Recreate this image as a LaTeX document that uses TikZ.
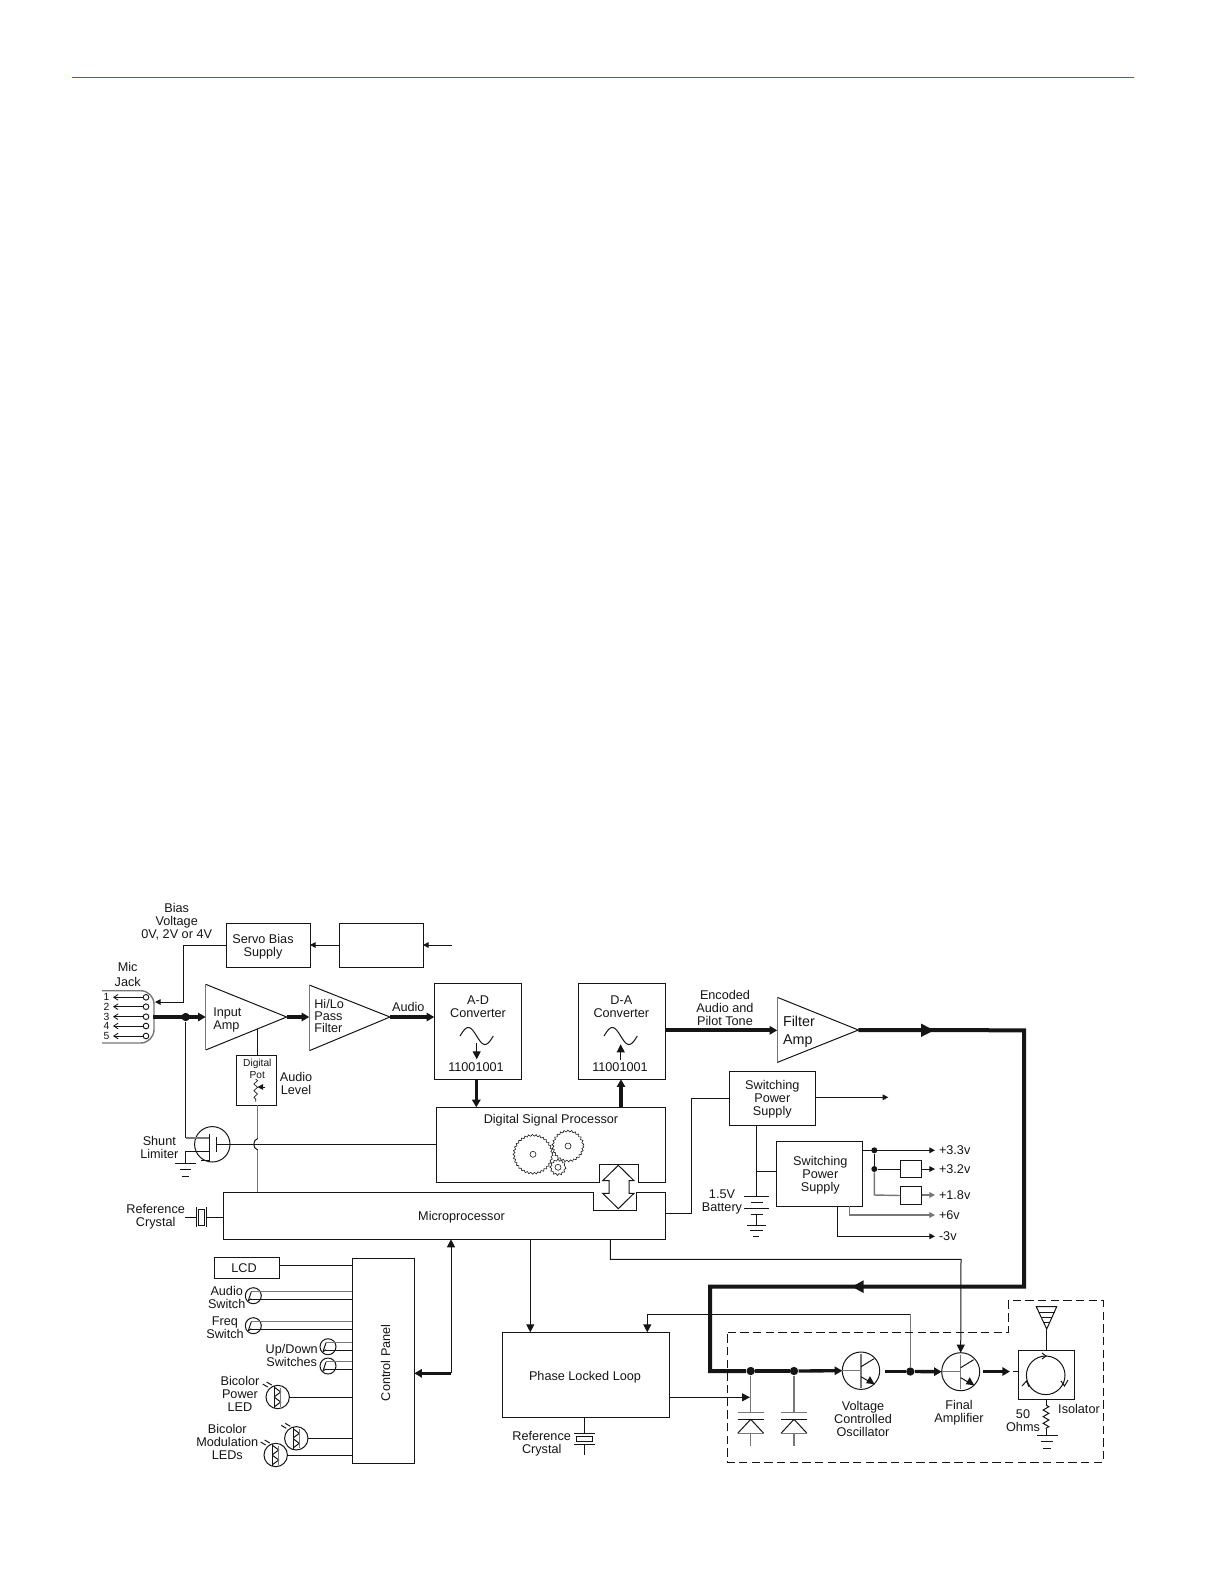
\documentclass[tikz,border=0pt]{standalone}
\usepackage{fontspec}
\setmainfont{Liberation Sans}
\usetikzlibrary{arrows.meta,decorations.pathmorphing,calc}
\definecolor{ink}{HTML}{151515}
\definecolor{gl}{HTML}{777777}
\definecolor{rule}{HTML}{1B75A5}
\tikzset{
  wire/.style={line width=0.6pt,draw=ink},
  gwire/.style={line width=0.85pt,draw=gl},
  thick1/.style={line width=2pt,draw=ink},
  thick2/.style={line width=2.4pt,draw=ink},
  arrS/.style={-{Triangle[length=3.4pt,width=3.4pt]}},
  arrB/.style={-{Straight Barb[length=2.6pt,width=3.4pt,line width=0.5pt]}},
  arrM/.style={-{Triangle[length=4.8pt,width=4.8pt]}},
  arrT/.style={-{Triangle[length=4.6pt,width=5pt]}},
  boxn/.style={draw=ink,line width=0.6pt,inner sep=0pt,outer sep=0pt,align=center,fill=none},
  lab/.style={inner sep=0pt,outer sep=0pt,align=center,text=ink,font=\fontsize{7.6}{7.8}\selectfont},
  labl/.style={lab,align=left,anchor=west},
  dotn/.style={circle,fill=ink,inner sep=0pt,minimum size=5pt},
  ringn/.style={circle,draw=ink,line width=0.6pt,inner sep=0pt,outer sep=0pt},
  pinring/.style={circle,draw=ink,line width=0.55pt,inner sep=0pt,outer sep=0pt,minimum size=3.4pt},
  transistor/.pic={
    \draw[gwire] (0,-17)--(0,17);
    \draw[wire] (0,-4)--(13,-12);
    \draw[wire] (0,6)--(12,13);
    \fill[ink] (13.5,13.5)--(5,12.5)--(9,5.5)--cycle;
  },
  ledsym/.pic={
    \draw[wire] (-11,-15)--(-6,-12) (-15,-13)--(-10,-10);
    \draw[wire] (-3,-11)--(-3,11);
    \draw[wire] (-3,-9.5)--(3,-5)--(-3,-0.5);
    \draw[wire] (-3,0.5)--(3,5)--(-3,9.5);
    \draw[gwire] (3,-9)--(3,10);
  },
  switchsym/.pic={
    \draw[wire] (-5,5)--(-2,-4);
    \draw[wire] (-5,5)--(-2,3);
  }
}
\newcommand\rectnode[6]{%
  \pgfmathsetmacro\rw{(#4-#2)*0.6}\pgfmathsetmacro\rh{(#5-#3)*0.6}%
  \node[boxn,lab,minimum width=\rw pt,minimum height=\rh pt,draw=ink,line width=0.6pt] (#1) at ({(#2+#4)/2},{(#3+#5)/2}) {#6};}
\newcommand\ringat[4]{%
  \pgfmathsetmacro\rd{2*#4*0.6}%
  \node[ringn,minimum size=\rd pt] (#1) at (#2,#3) {};}
\begin{document}
\begin{tikzpicture}[x=0.6pt,y=-0.6pt]
\useasboundingbox (0,0) rectangle (1224,1584);
% top rule
\coordinate (ruleL) at (71.7,77.5); \coordinate (ruleR) at (1134,77.5);
\draw[rule,line width=0.85pt] (ruleL)--(ruleR);

% ---------- boxes
\rectnode{servo}{226.7}{923}{310}{967}{}
\rectnode{blank}{339}{923}{423}{967}{}
\rectnode{adc}{434.3}{983.3}{521.7}{1079.3}{}
\rectnode{dac}{578.3}{983.3}{665.7}{1079.3}{}
\rectnode{pot}{236.7}{1055.3}{276.3}{1105.3}{}
\rectnode{sw1}{729.3}{1071}{815.7}{1125.3}{}
\rectnode{sw2}{776.3}{1141.3}{862.7}{1206.3}{}
\rectnode{reg1}{900.3}{1160}{921.7}{1177.7}{}
\rectnode{reg2}{900.3}{1186.3}{921.7}{1204.7}{}
\rectnode{lcd}{214.7}{1257.3}{279.3}{1278.3}{}
\rectnode{panel}{352.3}{1258.3}{414.3}{1463.3}{}
\rectnode{pll}{502.7}{1332.3}{669.3}{1417.3}{}
\rectnode{iso}{1018.3}{1350.7}{1074.3}{1399.3}{}

% DSP and microprocessor with notches
\draw[wire] (599.3,1182.3)--(599.3,1164.3)--(638.7,1164.3)--(638.7,1182.3)--(665.7,1182.3)--(665.7,1107.3)--(436.3,1107.3)--(436.3,1182.3)--cycle;
\coordinate (dspL) at (436.3,1144.3);
\coordinate (dspA) at (476.3,1107.3); \coordinate (dspB) at (621,1107.3);
\draw[wire] (593.3,1192.3)--(593.3,1210.3)--(636.7,1210.3)--(636.7,1192.3)--(665.7,1192.3)--(665.7,1239.3)--(223.3,1239.3)--(223.3,1192.3)--cycle;
\coordinate (micL) at (223.3,1217); \coordinate (micR) at (665.7,1213.7);
\coordinate (micPot) at (257.7,1192.3);
\coordinate (micA) at (451,1239.3); \coordinate (micB) at (530.3,1239.3); \coordinate (micC) at (610.3,1239.3);
% double arrow
\draw[wire] (618.3,1165.3)--(634,1180.7)--(629,1180.7)--(629,1193.3)--(634,1193.3)--(618.3,1208.7)--(602.7,1193.3)--(609,1193.3)--(609,1180.7)--(602.7,1180.7)--cycle;

% amplifiers
\coordinate (ampA) at (205.7,984.3); \coordinate (ampB) at (205.7,1050); \coordinate (ampT) at (286.7,1017);
\draw[wire] (ampB)--(ampT)--(ampA); \draw[gwire] (ampA)--(ampB);
\coordinate (filA) at (309.3,985); \coordinate (filB) at (309.3,1050.7); \coordinate (filT) at (390,1017);
\draw[wire] (filB)--(filT)--(filA); \draw[gwire] (filA)--(filB);
\coordinate (famA) at (777.3,997.3); \coordinate (famB) at (777.3,1062.4); \coordinate (famT) at (858.4,1030);
\draw[wire] (famB)--(famT)--(famA); \draw[gwire] (famA)--(famB);
\coordinate (ampL) at (205.7,1017); \coordinate (filL) at (309.3,1017); \coordinate (famL) at (777.3,1030.3);
\coordinate (ampPot) at (257.7,1029.3);

% mic jack
\draw[gwire,rounded corners=8pt] (102,990.7)--(154,990.7)--(154,1043)--(102,1043);
\coordinate (jackR) at (155,1002); \coordinate (jackO) at (153,1017);
\foreach \n/\y in {1/997.3,2/1006.7,3/1016.7,4/1026,5/1036}{
  \node[pinring] (pin\n) at (146,\y) {};
  \coordinate (pinT\n) at (113,\y);
  \draw[wire,arrB] (pin\n)--(pinT\n);
  \node[lab,font=\fontsize{6.2}{7}\selectfont] (pinN\n) at (106.5,\y) {\n};
}
% bias lines
\coordinate (feedIn) at (452,945);
\draw[wire,arrS] (feedIn)--(blank.east|-feedIn);
\draw[wire,arrS] (blank.west|-feedIn)--(servo.east|-feedIn);
\draw[wire,arrS] (servo.west|-feedIn)-|(183,1002)--(jackR);
% main audio path
\node[dotn] (jdot) at (185.7,1017) {};
\draw[thick1,arrT] (jackO)--(ampL);
\draw[thick1,arrT] (ampT)--(filL);
\draw[thick1,arrT] (filT)--(adc.west|-filT);
\draw[thick1,arrT] (adc.south-|dspA)--(dspA);
\draw[thick1,arrT] (dspB)--(dac.south-|dspB);
\draw[thick2,arrT] (dac.east|-famL)--(famL);
% pot
\draw[wire] (ampPot)--(pot.north-|ampPot);
\coordinate (hop1) at (257.7,1138.5); \coordinate (hop2) at (257.7,1150);
\draw[gwire] (pot.south-|ampPot)--(hop1);
\draw[wire] (hop1) .. controls (252.5,1140) and (252.5,1148.5) .. (hop2);
\draw[gwire] (hop2)--(micPot);
\draw[line width=0.4pt,draw=ink,decorate,decoration={zigzag,segment length=4pt,amplitude=1.1pt}] (255.7,1079)--(255.7,1101.7);
\draw[line width=0.45pt,draw=ink,arrS] (265,1087)--(257.5,1087);
% shunt limiter
\ringat{fet}{212.3}{1144.3}{17.7}
\draw[wire] (jdot)--(185.7,1138);
\draw[gwire] (185.7,1138)--(209.3,1138);
\draw[wire] (209.3,1134)--(209.3,1161);
\draw[wire] (209.3,1151)--(185,1151)--(185,1163.3);
\draw[wire] (201,1160.7)--(209.3,1160.7);
\draw[wire] (216.7,1137)--(216.7,1151.5);
\draw[wire] (216.7,1144.3)--(dspL);
\draw[wire] (175,1163.3)--(195.7,1163.3) (180,1169.3)--(191,1169.3) (181.7,1176)--(189,1176);
% reference crystal 1
\draw[wire] (185,1217)--(196,1217) (196,1207.3)--(196,1227.3);
\draw[wire] (198.3,1209)rectangle(204.7,1225.7);
\draw[wire] (206.3,1207.3)--(206.3,1227.3) (206.3,1217)--(micL);
% A-D / D-A internals
\draw[wire] plot[domain=0:360,samples=40] ({460+\x/360*33.3},{1036-8.5*sin(\x)});
\draw[wire] plot[domain=0:360,samples=40] ({604+\x/360*33.3},{1036-8.5*sin(\x)});
\draw[wire,arrM] (476.7,1043.3)--(476.7,1059.3);
\draw[wire,arrM] (620.7,1060)--(620.7,1044.3);
% gears
\foreach \n/\cx/\cy/\r/\hr in {a/533/1154.3/19/3,b/568/1146/15/3,c/558/1167.3/7.2/3}{
  \draw[draw=ink,line width=0.35pt,decorate,decoration={zigzag,segment length=2.2pt,amplitude=0.55pt}] (\cx,\cy) circle[radius=\r];
  \draw[draw=ink,line width=0.35pt] (\cx,\cy) circle[radius=\hr];
}
% power
\draw[wire,arrS] (sw1.east|-0,1097.3)--(888.3,1097.3);
\draw[wire] (sw1.west|-0,1098.3)-|(691.7,1213.7)--(micR);
\coordinate (batTop) at (756.3,1196);
\draw[wire] (sw1.south-|batTop)--(batTop);
\draw[wire] (756.3,1171.3)--(sw2.west|-0,1171.3);
\draw[wire] (744,1196)--(769,1196) (750.7,1202.3)--(762.7,1202.3) (744,1208.3)--(769,1208.3) (750.7,1214.7)--(762.7,1214.7);
\draw[wire] (756.3,1214.7)--(756.3,1225);
\draw[wire] (747.3,1225)--(766,1225) (750,1230.7)--(762.7,1230.7) (752.7,1236)--(759.3,1236);
\coordinate (t33) at (935,1150.3); \coordinate (t32) at (935,1169); \coordinate (t18) at (935,1195); \coordinate (t6) at (935,1215); \coordinate (t3) at (935,1236.3);
\draw[wire,arrS] (sw2.east|-t33)--(t33);
\node[dotn,minimum size=3.6pt] (d33) at (874.3,1150.3) {};
\node[dotn,minimum size=3.6pt] (d32) at (874.3,1169) {};
\draw[wire] (d33)--(d32);
\draw[gwire] (d32)--(874.3,1195)--(reg2.west);
\draw[wire] (d32)--(reg1.west|-d32);
\draw[wire,arrS] (reg1.east|-t32)--(t32);
\draw[gwire,arrS] (reg2.east|-t18)--(t18);
\draw[gwire,arrS] (849.3,1206.3)|-(t6);
\draw[wire,arrS] (837.3,1206.3)|-(t3);

% control panel
\draw[wire] (lcd.east|-0,1265.3)--(panel.west|-0,1265.3);
\foreach \n/\cx/\cy/\ya/\yb in {as/253.3/1295.7/1291.7/1299.3,fs/253.3/1325.7/1321.7/1329,ud/328/1346.7/1342.7/1350.3,us/328/1366/1361.7/1369.3}{
  \ringat{\n}{\cx}{\cy}{8}
  \draw[gwire] (\cx-2,\ya)--(panel.west|-0,\ya);
  \draw[wire] (\cx-3,\yb)--(panel.west|-0,\yb);
  \pic at (\cx,\cy) {switchsym};
}
\foreach \n/\cx/\cy in {lp/277.7/1397,lm/296.3/1438.3,ln/275.7/1455}{
  \ringat{\n}{\cx}{\cy}{11.7}
  \pic at (\cx,\cy) {ledsym};
  \draw[wire] (\n.east)--(panel.west|-\n.east);
}
\draw[thick1,arrT] (451,1373.3)--(panel.east|-0,1373.3);
\draw[wire,arrM] (451,1373.3)--(micA);
% micro to PLL etc
\draw[wire,arrM] (micB)--(pll.north-|micB);
\coordinate (fbT) at (647.3,1314.3);

% RF section
\coordinate (rfA) at (1024,1030.3); \coordinate (rfB) at (1024,1286.7); \coordinate (rfC) at (710,1286.7); \coordinate (rfD) at (710,1371);
\ringat{vco}{861}{1370.7}{18.7}
\ringat{fin}{960.7}{1371.7}{19}
\node[dotn] (dv1) at (750.7,1371) {};
\node[dotn] (dv2) at (794,1371) {};
\node[dotn] (dv3) at (910.3,1371.5) {};
\draw[thick2] (famT)--(rfA)--(rfB)--(rfC)--(rfD)--(dv1);
\draw[thick1] (dv1)--(dv2);
\draw[thick1,arrT] (dv2)--(vco.west);
\fill[ink] (921,1023.5)--(934,1030.3)--(921,1037)--cycle;
\fill[ink] (852,1286.7)--(863.5,1280.3)--(863.5,1293)--cycle;
\draw[gwire] (vco.west)--(861,1370.7);
\draw[gwire] (fin.west)--(960.7,1371.7);
\pic at (vco) {transistor};
\pic at (fin) {transistor};
\coordinate (vout) at (885,1371.5); \coordinate (fout) at (983,1371.5);
\draw[thick1] (vout)--(dv3);
\draw[thick1,arrT] (dv3)--(fin.west);
\draw[thick1,arrT] (fout)--(1010,1371.5);
\draw[wire] (1013,1371.5)--(iso.west|-0,1371.5);
\draw[gwire] (dv3)--(910.3,1314.3);
\draw[wire,arrM] (910.3,1314.3)-|(fbT)--(pll.north-|fbT);
\draw[wire,arrM] (micC)|-(961,1259.3)--(fin.north);
\foreach \n in {1,2}{
  \path (dv\n) ++(0,41.7) coordinate (cp\n);
  \draw[gwire] (dv\n)--(cp\n);
  \draw[gwire] ($(cp\n)+(-13,0)$)--($(cp\n)+(13,0)$);
  \draw[wire] ($(cp\n)+(-13,6.6)$)--($(cp\n)+(13,6.6)$);
  \draw[wire] ($(cp\n)+(0,6.6)$)--($(cp\n)+(-13,20.6)$);
  \draw[wire] ($(cp\n)+(0,6.6)$)--($(cp\n)+(13,20.6)$);
  \draw[gwire] ($(cp\n)+(-13,20.6)$)--($(cp\n)+(13,20.6)$);
  \draw[gwire] ($(cp\n)+(0,20.6)$)--($(cp\n)+(0,33.5)$);
}
\draw[wire,arrM] (pll.east|-0,1397.3)--(750,1397.3);
\draw[wire,dash pattern=on 5pt off 2.6pt] (727.7,1332.3)--(1008.3,1332.3)--(1008.3,1300.7)--(1103.3,1300.7)--(1103.3,1462.3)--(727.7,1462.3)--cycle;
% crystal 2
\coordinate (x2) at (584.7,1433.3);
\draw[wire] (pll.south-|x2)--(x2);
\draw[wire] (574,1433.3)--(595,1433.3);
\draw[wire] (576.7,1436.7)rectangle(592.3,1441.7);
\draw[wire] (574,1444.3)--(595,1444.3) (584.7,1444.3)--(584.7,1454.7);
% isolator
\ringat{circ}{1045.7}{1375.3}{19.3}
\draw[wire] (1042,1353)--(1046,1356)--(1042,1359);
\draw[wire] (1022,1386)--(1026.5,1381)--(1029,1387);
\draw[wire] (1061,1381)--(1064.5,1386)--(1068,1380);
\coordinate (antT) at (1046.7,1329);
\draw[wire] (1036.3,1306.7)--(1056.7,1306.7)--(antT)--cycle;
\draw[wire] (1038.5,1312)--(1054.5,1312) (1041,1317.5)--(1052,1317.5) (1043.5,1322.5)--(1049.5,1322.5);
\draw[wire] (antT)--(iso.north-|antT);
\coordinate (rT) at (1046,1405); \coordinate (rB) at (1046,1429);
\draw[wire] (iso.south-|rT)--(rT);
\draw[wire,decorate,decoration={zigzag,segment length=4pt,amplitude=1.7pt}] (rT)--(rB);
\draw[wire] (rB)--(1046,1435);
\draw[wire] (1037,1435)--(1058,1435) (1040.7,1441.7)--(1053,1441.7) (1043,1448)--(1051,1448);

% ---------- labels
\begin{scope}[shift={(0,0.4)}]
\node[lab] (tBias) at (176.7,921.5) {Bias\\Voltage\\0V, 2V or 4V};
\node[lab] (tServo) at (263,946.5) {Servo Bias\\Supply};
\node[lab] (tMic) at (127.7,974.5) {Mic\\[1.2pt]Jack};
\node[labl] (tIn) at (213.3,1019.5) {Input\\Amp};
\node[labl,font=\fontsize{7.6}{7.2}\selectfont] (tHi) at (314.3,1016) {Hi/Lo\\Pass\\Filter};
\node[lab] (tAud) at (408.3,1006.5) {Audio};
\node[lab] (tAD) at (478,1006.3) {A-D\\Converter};
\node[lab] (tAn) at (476,1067) {11001001};
\node[lab] (tDA) at (621.3,1006.3) {D-A\\Converter};
\node[lab] (tDn) at (620,1067) {11001001};
\node[lab] (tEnc) at (725,1007.2) {Encoded\\Audio and\\Pilot Tone};
\node[labl,font=\fontsize{8.6}{10.6}\selectfont] (tFil) at (783,1031.5) {Filter\\Amp};
\node[lab,font=\fontsize{6.1}{7}\selectfont] (tPot) at (257.3,1068.5) {Digital\\Pot};
\node[lab] (tLev) at (296,1083.3) {Audio\\Level};
\node[lab] (tSh) at (159.3,1146.7) {Shunt\\Limiter};
\node[lab] (tDSP) at (551,1120.3) {Digital Signal Processor};
\node[lab] (tMicro) at (461.5,1216.5) {Microprocessor};
\node[lab] (tRef) at (155.7,1216.3) {Reference\\Crystal};
\node[lab] (tS1) at (772.3,1098.5) {Switching\\Power\\Supply};
\node[lab] (tS2) at (820.3,1174.5) {Switching\\Power\\Supply};
\node[lab] (tBat) at (722,1202) {1.5V\\Battery};
\node[labl] (v1) at (939,1150) {+3.3v};
\node[labl] (v2) at (939,1169) {+3.2v};
\node[labl] (v3) at (939,1195) {+1.8v};
\node[labl] (v4) at (939,1215) {+6v};
\node[labl] (v5) at (939,1236) {-3v};
\node[lab] (tLCD) at (244,1268) {LCD};
\node[lab] (tAS) at (226.7,1296.7) {Audio\\Switch};
\node[lab] (tFS) at (225,1327) {Freq\\Switch};
\node[lab] (tUD) at (291.7,1355) {Up/Down\\Switches};
\node[lab] (tBP) at (240,1393.7) {Bicolor\\Power\\LED};
\node[lab] (tBM) at (227.3,1442) {Bicolor\\Modulation\\LEDs};
\node[lab,rotate=90] (tCP) at (385.7,1362.3) {Control Panel};
\node[lab] (tPLL) at (585,1376.7) {Phase Locked Loop};
\node[lab] (tRef2) at (541.7,1443.3) {Reference\\Crystal};
\node[lab] (tVCO) at (863,1418.5) {Voltage\\Controlled\\Oscillator};
\node[lab] (tFin) at (959,1412) {Final\\Amplifier};
\node[lab] (t50) at (1023,1420.2) {50\\Ohms};
\node[lab] (tIso) at (1079,1408.8) {Isolator};
\end{scope}
\end{tikzpicture}
\end{document}
